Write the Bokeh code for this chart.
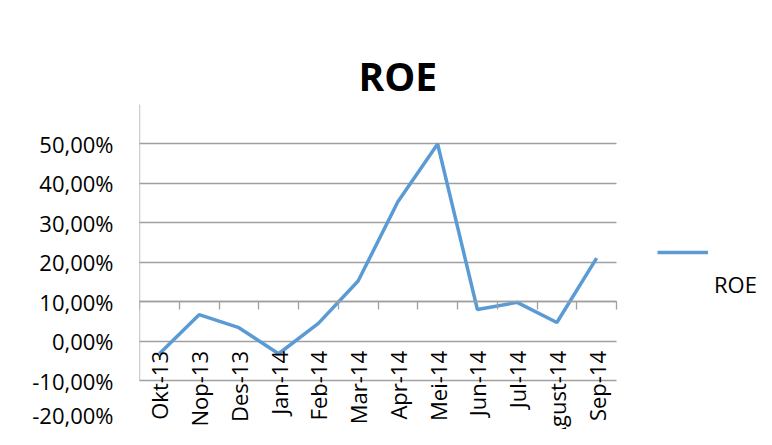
import math
from bokeh.plotting import figure
from bokeh.models import (Range1d, FixedTicker, LinearAxis, Legend, LegendItem,
                          ColumnDataSource)
from bokeh.embed import file_html
from bokeh.resources import INLINE

# ---- data ----
months = ["Okt-13", "Nop-13", "Des-13", "Jan-14", "Feb-14", "Mar-14",
          "Apr-14", "Mei-14", "Jun-14", "Jul-14", "Agust-14", "Sep-14"]
roe = [-3.1, 6.8, 3.5, -3.1, 4.6, 15.3, 35.4, 50.0, 8.1, 9.9, 4.8, 21.1]
label_ticks = [-20, -10, 0, 10, 20, 30, 40, 50]
tick_labels = ["-20,00%", "-10,00%", "0,00%", "10,00%", "20,00%",
               "30,00%", "40,00%", "50,00%"]
grid_ticks = [-10, 0, 10, 20, 30, 40, 50, 60]
series_name = "ROE"
title_text = "ROE"

FONT = "Open Sans"
GRID = "#a0a0a0"
BLUE = "#5b9bd5"
TXT = "#000000"

n = len(months)
xs = list(range(n))
src = ColumnDataSource(dict(x=xs, y=roe))

# plot area spans 12 categories over 477 px; extra room on the right holds the legend
px_per_cat = 477 / n
p = figure(width=756, height=429,
           x_range=Range1d(-0.5, n - 0.5 + 140 / px_per_cat),
           y_range=Range1d(-22.28, 60),
           output_backend="svg", toolbar_location=None,
           min_border_left=139, min_border_right=0,
           min_border_top=104, min_border_bottom=0)
p.outline_line_color = None
p.background_fill_color = "white"
p.border_fill_color = "white"
p.xgrid.visible = False
p.ygrid.ticker = FixedTicker(ticks=grid_ticks)
p.ygrid.cross_bounds = (-0.5, n - 0.5)
p.ygrid.grid_line_color = GRID
p.ygrid.grid_line_width = 1.3

line = p.line("x", "y", source=src, line_color=BLUE, line_width=3.5)

# ---- category axis (crosses at 10%) ----
xa = p.xaxis[0]
xa.fixed_location = 10
xa.bounds = (-0.5, n - 0.5)
xa.ticker = FixedTicker(ticks=xs, minor_ticks=[i - 0.5 for i in range(n + 1)])
xa.major_label_overrides = {i: m for i, m in zip(xs, months)}
xa.major_label_orientation = math.pi / 2
xa.major_label_standoff = 41
xa.major_tick_out = 0
xa.major_tick_in = 0
xa.minor_tick_out = 8
xa.minor_tick_in = 0
xa.minor_tick_line_color = GRID
xa.minor_tick_line_width = 1.3
xa.axis_line_color = GRID
xa.axis_line_width = 1.3
xa.major_label_text_font = FONT
xa.major_label_text_font_size = "22px"
xa.major_label_text_color = TXT

# ---- value axis labels ----
ya = p.yaxis[0]
ya.ticker = FixedTicker(ticks=label_ticks)
ya.major_label_overrides = {t: s for t, s in zip(label_ticks, tick_labels)}
ya.major_tick_out = 0
ya.major_tick_in = 0
ya.minor_tick_out = 0
ya.minor_tick_in = 0
ya.axis_line_color = None
ya.major_label_standoff = 26
ya.major_label_text_baseline = "alphabetic"
ya.major_label_text_font = FONT
ya.major_label_text_font_size = "22px"
ya.major_label_text_color = TXT

# ---- value axis line + ticks ----
ya2 = LinearAxis(fixed_location=-0.5, bounds=(-10, 60),
                 ticker=FixedTicker(ticks=grid_ticks),
                 major_label_overrides={t: "" for t in grid_ticks},
                 major_tick_out=8, major_tick_in=0,
                 minor_tick_out=0, minor_tick_in=0,
                 axis_line_color=GRID, axis_line_width=1.3,
                 major_tick_line_color=GRID, major_tick_line_width=1.3)
p.add_layout(ya2, "left")

# ---- title ----
p.title.text = title_text
p.title.align = "left"
p.title.offset = 219
p.title.text_font = FONT
p.title.text_font_style = "bold"
p.title.text_font_size = "39px"
p.title.text_color = TXT
p.title.standoff = 6

# ---- legend: line swatch with its name set below it ----
blank = p.line(x=[], y=[], line_alpha=0)
legend = Legend(items=[LegendItem(label="", renderers=[line]),
                       LegendItem(label=series_name, renderers=[blank])],
                location=(518, 130), orientation="vertical",
                glyph_width=51, glyph_height=30, label_height=30,
                label_standoff=6, padding=0, margin=0, spacing=2,
                border_line_color=None, background_fill_alpha=0,
                label_text_font=FONT, label_text_font_size="22px",
                label_text_color=TXT)
p.add_layout(legend)

open("out.html", "w").write(file_html(p, INLINE))
